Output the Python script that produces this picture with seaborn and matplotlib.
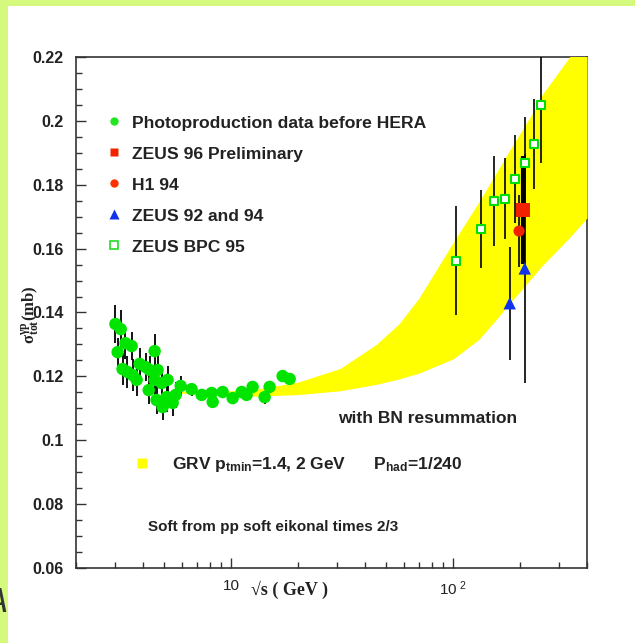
import numpy as np
import pandas as pd
import seaborn as sns
import matplotlib.pyplot as plt
from matplotlib.lines import Line2D
from matplotlib.patches import Rectangle
from matplotlib.ticker import FixedLocator, FuncFormatter, MultipleLocator, LogLocator, NullFormatter

# photoproduction data before HERA: sqrt(s) [GeV], sigma [mb], error
photo_w = [3.01, 3.18, 3.08, 3.34, 3.56, 3.24, 3.41, 3.60, 3.75, 3.87, 4.12, 4.29, 4.52,
           4.66, 4.25, 4.52, 4.86, 5.17, 4.61, 4.91, 5.12, 5.45, 5.62, 5.92, 6.63, 7.36,
           8.16, 8.25, 9.15, 10.15, 11.14, 11.73, 12.48, 14.14, 14.89, 17.04, 18.33]
photo_sig = [0.1364, 0.1348, 0.1276, 0.1304, 0.1295, 0.1223, 0.1214, 0.1204, 0.1189, 0.1239,
             0.1229, 0.1220, 0.1279, 0.1220, 0.1157, 0.1189, 0.1179, 0.1189, 0.1126, 0.1104,
             0.1135, 0.1117, 0.1142, 0.1170, 0.1160, 0.1142, 0.1148, 0.1120, 0.1151, 0.1132,
             0.1151, 0.1142, 0.1167, 0.1135, 0.1167, 0.1201, 0.1192]
photo_err = [0.0058, 0.0060, 0.0045, 0.0050, 0.0045, 0.0050, 0.0050, 0.0050, 0.0050, 0.0050,
             0.0045, 0.0045, 0.0055, 0.0055, 0.0045, 0.0050, 0.0050, 0.0045, 0.0045, 0.0040,
             0.0045, 0.0040, 0.0040, 0.0030, 0.0020, 0.0020, 0.0020, 0.0020, 0.0020, 0.0020,
             0.0020, 0.0020, 0.0020, 0.0020, 0.0020, 0.0020, 0.0020]

bpc_w = [103.3, 133.8, 152.1, 171.7, 189.1, 210.4, 231.0, 247.6]
bpc_sig = [0.1562, 0.1661, 0.1748, 0.1756, 0.1819, 0.1867, 0.1927, 0.2050]
bpc_err = [0.0171, 0.0122, 0.0141, 0.0127, 0.0138, 0.0144, 0.0141, 0.0183]

zeus96_w = [206.0]
zeus96_sig = [0.1721]
zeus96_err = [0.0170]

h1_w = [197.7]
h1_sig = [0.1655]
h1_err = [0.0113]

zeus9294_w = [179.5, 209.7]
zeus9294_sig = [0.1429, 0.1538]
zeus9294_err = [0.0177, 0.0358]

# GRV band (ptmin = 2 lower edge, ptmin = 1.4 upper edge)
band_w = [5.0, 6.5, 8.0, 10.0, 13.0, 20.0, 31.0, 45.0, 57.0, 70.0, 100.0, 130.0, 157.0,
          180.0, 230.0, 250.0, 334.0, 400.0]
band_lo = [0.1150, 0.1146, 0.1143, 0.1141, 0.1138, 0.1143, 0.1155, 0.1175, 0.1192, 0.1210,
           0.1255, 0.1315, 0.1380, 0.1430, 0.1515, 0.1545, 0.1635, 0.1696]
band_hi = [0.1153, 0.1153, 0.1153, 0.1155, 0.1160, 0.1182, 0.1225, 0.1300, 0.1365, 0.1445,
           0.1620, 0.1745, 0.1840, 0.1910, 0.2030, 0.2080, 0.2200, 0.2290]

legend_labels = ["Photoproduction data before HERA", "ZEUS 96 Preliminary", "H1 94",
                 "ZEUS 92 and 94", "ZEUS BPC 95"]
grv_label = "GRV p$_{tmin}$=1.4, 2 GeV      P$_{had}$=1/240"

sns.set_style("ticks")
plt.rcParams['font.family'] = ['Liberation Sans', 'DejaVu Sans']
plt.rcParams['mathtext.default'] = 'regular'

GREEN = '#00e400'
RED = '#f02200'
BLUE = '#1133ee'
YELLOW = '#ffff00'
INK = '#222222'

fig = plt.figure(figsize=(6.35, 6.43), dpi=100)
fig.patch.set_facecolor('white')
fig.add_artist(Rectangle((0, 1 - 6 / 643), 1, 6 / 643, transform=fig.transFigure,
                         color='#d4f97c', lw=0, zorder=0))
fig.add_artist(Rectangle((0, 0), 8 / 635, 1, transform=fig.transFigure,
                         color='#d4f97c', lw=0, zorder=0))

ax = fig.add_axes([76 / 635, 75 / 643, 511 / 635, 511 / 643])
ax.set_xscale('log')

ax.fill_between(band_w, band_lo, band_hi, color=YELLOW, lw=0, zorder=3)

ax.errorbar(photo_w, photo_sig, yerr=photo_err, fmt='none', ecolor='black',
            elinewidth=1.3, zorder=4)
sns.scatterplot(x=photo_w, y=photo_sig, color=GREEN, s=80, edgecolor='none',
                zorder=5, ax=ax)

ax.errorbar(bpc_w, bpc_sig, yerr=bpc_err, fmt='none', ecolor='black', elinewidth=1.2, zorder=4)
ax.errorbar(h1_w, h1_sig, yerr=h1_err, fmt='none', ecolor='black', elinewidth=1.2, zorder=4)
ax.errorbar(zeus9294_w, zeus9294_sig, yerr=zeus9294_err, fmt='none', ecolor='black',
            elinewidth=1.2, zorder=4)
ax.errorbar(zeus96_w, zeus96_sig, yerr=zeus96_err, fmt='none', ecolor='black',
            elinewidth=3, zorder=4)

sns.scatterplot(x=bpc_w, y=bpc_sig, marker='s', s=30, color='white', edgecolor='#00dd00',
                linewidth=1.5, zorder=6, ax=ax)
sns.scatterplot(x=zeus96_w, y=zeus96_sig, marker='s', s=95, color=RED, edgecolor='none',
                zorder=6, ax=ax)
sns.scatterplot(x=h1_w, y=h1_sig, marker='o', s=65, color=RED, edgecolor='none',
                zorder=6, ax=ax)
sns.scatterplot(x=zeus9294_w, y=zeus9294_sig, marker='^', s=80, color=BLUE, edgecolor='none',
                zorder=6, ax=ax)

ax.set_xlim(2, 400)
ax.set_ylim(0.06, 0.22)

ax.xaxis.set_major_locator(FixedLocator([10, 100]))
ax.xaxis.set_major_formatter(FuncFormatter(lambda v, p: {10: "10", 100: "10$^{\\ 2}$"}.get(int(round(v)), "")))
ax.xaxis.set_minor_locator(LogLocator(base=10, subs=np.arange(2, 10)))
ax.xaxis.set_minor_formatter(NullFormatter())
ax.yaxis.set_major_locator(MultipleLocator(0.02))
ax.yaxis.set_minor_locator(MultipleLocator(0.005))
ax.yaxis.set_major_formatter(FuncFormatter(lambda v, p: f"{v:.2f}".rstrip('0')))

ax.tick_params(which='both', direction='in', top=False, right=False, color='#333333', width=1)
ax.tick_params(which='major', length=7)
ax.tick_params(which='minor', length=4)
ax.tick_params(axis='y', pad=9, labelsize=11.5, labelcolor=INK)
ax.tick_params(axis='x', pad=8, labelsize=11, labelcolor=INK)
for lab in ax.get_yticklabels():
    lab.set_fontweight('bold')
for sp in ax.spines.values():
    sp.set_color('#333333')
    sp.set_linewidth(1.2)

ax.set_ylabel(r"$\sigma^{\gamma p}_{tot}$(mb)", fontfamily=['Liberation Serif', 'DejaVu Serif'],
              fontweight='bold', fontsize=12, color=INK)
ax.yaxis.set_label_coords(-0.066, 0.495)
ax.set_xlabel("\u221as ( GeV )", fontfamily=['Liberation Serif', 'DejaVu Serif'],
              fontweight='bold', fontsize=13, color=INK)
ax.xaxis.set_label_coords(0.417, -0.025)

handles = [
    Line2D([], [], ls='none', marker='o', ms=6, mfc='#22e622', mec='none'),
    Line2D([], [], ls='none', marker='s', ms=6, mfc=RED, mec='none'),
    Line2D([], [], ls='none', marker='o', ms=6, mfc='#ff3300', mec='none'),
    Line2D([], [], ls='none', marker='^', ms=6.5, mfc=BLUE, mec='none'),
    Line2D([], [], ls='none', marker='s', ms=5.5, mfc='white', mec='#22dd22', mew=1.2),
]
leg = ax.legend(handles, legend_labels, loc='upper left', bbox_to_anchor=(0.058, 0.886),
                frameon=False, prop={'weight': 'bold', 'size': 12.6}, handlelength=1.0,
                handletextpad=0.5, labelspacing=0.90, borderpad=0, borderaxespad=0,
                labelcolor=INK)
ax.add_artist(leg)

grv_handle = Line2D([], [], ls='none', marker='s', ms=7.5, mfc=YELLOW, mec='none')
ax.legend([grv_handle], [grv_label], loc='upper left', bbox_to_anchor=(0.113, 0.221),
          frameon=False, prop={'weight': 'bold', 'size': 12.5}, handlelength=1.0,
          handletextpad=1.2, borderpad=0, borderaxespad=0, labelcolor=INK)

ax.text(0.513, 0.2935, "with BN resummation", transform=ax.transAxes, fontsize=12.5,
        fontweight='bold', va='center', color=INK)
ax.text(0.141, 0.080, "Soft from pp soft eikonal times 2/3", transform=ax.transAxes,
        fontsize=11, fontweight='bold', va='center', color=INK)

fig.text(-0.024, 0.048, "A", fontsize=25, style='italic', color='#333333')

fig.savefig('out.png', dpi=100)
